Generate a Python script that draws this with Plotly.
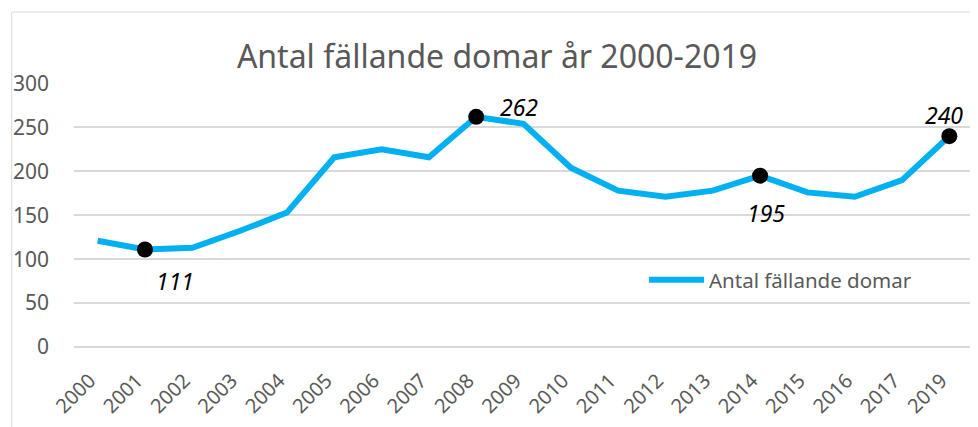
import plotly.graph_objects as go

years = ["2000", "2001", "2002", "2003", "2004", "2005", "2006", "2007", "2008",
         "2009", "2010", "2011", "2012", "2013", "2014", "2015", "2016", "2017", "2019"]
domar = [121, 111, 113, 132, 153, 216, 225, 216, 262,
         254, 204, 178, 171, 178, 195, 176, 171, 190, 240]
highlight_years = ["2001", "2008", "2014", "2019"]
highlight_vals = [111, 262, 195, 240]
label_shift = [(30, -32), (43, 10), (6, -37), (-5, 21)]

series_name = "Antal fällande domar"
title = "Antal fällande domar år 2000-2019"

W, H = 970, 419  # page body has an 8px margin

fig = go.Figure()
fig.add_trace(go.Scatter(
    x=years, y=domar, mode="lines", name=series_name,
    line=dict(color="#00B0F0", width=6),
))
fig.add_trace(go.Scatter(
    x=highlight_years, y=highlight_vals, mode="markers", showlegend=False,
    marker=dict(color="black", size=16),
))
for xv, yv, (dx, dy) in zip(highlight_years, highlight_vals, label_shift):
    fig.add_annotation(x=years.index(xv), y=yv, text=str(yv), showarrow=False,
                       xshift=dx, yshift=dy,
                       font=dict(family="Noto Sans", size=23, color="black",
                                 style="italic"))

fig.add_shape(type="rect", xref="paper", yref="paper",
              x0=-0.0693, x1=1.03, y0=-0.4, y1=1.269,
              line=dict(color="#D9D9D9", width=1), layer="below")

fig.update_layout(
    width=W, height=H,
    margin=dict(l=63, r=5, t=75, b=80),
    paper_bgcolor="white", plot_bgcolor="white",
    font=dict(family="Noto Sans", color="#595959"),
    title=dict(text=title, x=489 / W, xref="container", xanchor="center",
               y=1 - 49 / H, yref="container", yanchor="middle",
               font=dict(size=32, color="#595959")),
    showlegend=True,
    legend=dict(x=0.634, y=0.254, xanchor="left", yanchor="middle",
                font=dict(size=20.5, color="#595959"), bgcolor="rgba(0,0,0,0)",
                itemwidth=55),
)
fig.update_xaxes(type="category", range=[-0.5, len(years) - 0.5], tickangle=-45,
                 tickfont=dict(size=20, color="#595959"),
                 showgrid=False, showline=False, ticks="",
                 ticklabelstandoff=17, ticklabelshift=-8)
fig.update_yaxes(range=[0, 300.5], dtick=50, tickfont=dict(size=21, color="#595959"),
                 showgrid=True, gridcolor="#D9D9D9", gridwidth=2,
                 zeroline=True, zerolinecolor="#D9D9D9", zerolinewidth=2,
                 ticks="", ticklabelstandoff=24)

fig.write_html("out.html")
